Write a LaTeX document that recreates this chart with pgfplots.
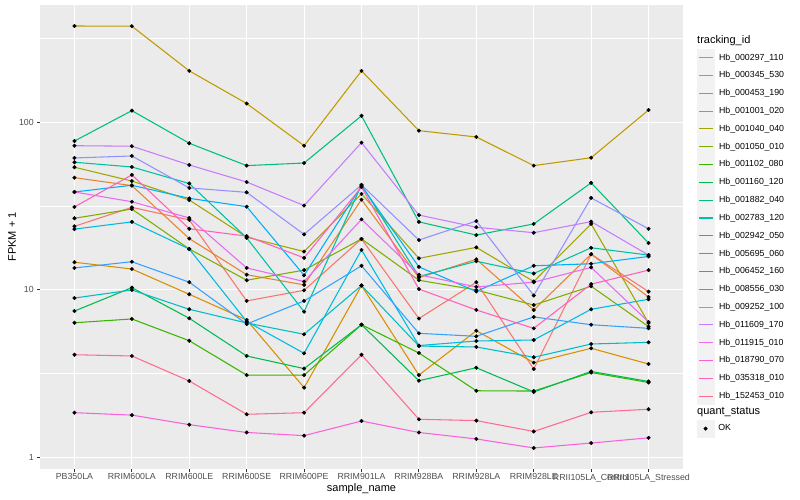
\documentclass[border=0pt]{standalone}
\usepackage{fontspec}
\setmainfont{Liberation Sans}
\usepackage{pgfplots}
\usepackage{pgfplotstable}
\pgfplotsset{compat=1.18}

% ggplot hue palette, 20 levels
\definecolor{c1}{HTML}{F8766D}
\definecolor{c2}{HTML}{EA8331}
\definecolor{c3}{HTML}{D89000}
\definecolor{c4}{HTML}{C09B00}
\definecolor{c5}{HTML}{A3A500}
\definecolor{c6}{HTML}{7CAE00}
\definecolor{c7}{HTML}{39B600}
\definecolor{c8}{HTML}{00BB4E}
\definecolor{c9}{HTML}{00BF7D}
\definecolor{c10}{HTML}{00C1A3}
\definecolor{c11}{HTML}{00BFC4}
\definecolor{c12}{HTML}{00BAE0}
\definecolor{c13}{HTML}{00B0F6}
\definecolor{c14}{HTML}{35A2FF}
\definecolor{c15}{HTML}{9590FF}
\definecolor{c16}{HTML}{C77CFF}
\definecolor{c17}{HTML}{E76BF3}
\definecolor{c18}{HTML}{FA62DB}
\definecolor{c19}{HTML}{FF62BC}
\definecolor{c20}{HTML}{FF6C91}
\definecolor{ggbg}{HTML}{EBEBEB}
\definecolor{keybg}{HTML}{F2F2F2}
\definecolor{gray20}{HTML}{333333}
\definecolor{gray30}{HTML}{4D4D4D}

\newcommand\ticksize{\fontsize{8.8bp}{10bp}\selectfont}
\newcommand\titlesize{\fontsize{11bp}{13bp}\selectfont}

% FPKM + 1 per sample (rows) and tracking_id (columns s1..s20, legend order)
\pgfplotstableread{
x  s1    s2    s3    s4   s5    s6    s7    s8    s9   s10   s11   s12   s13   s14   s15   s16   s17   s18   s19   s20
0  23.9  46.6  14.6  374  53.8  26.7  6.36  7.47  77.1 57.6  8.93  23.0  38.3  13.5  61.1  72.3  38.3  1.85  31.2  4.10
1  31.0  41.8  13.3  373  44.5  30.3  6.70  10.3  117  54.0  9.97  25.4  42.0  14.7  62.8  71.8  33.5  1.79  48.4  4.03
2  26.1  20.2  9.40  202  34.3  17.5  4.97  6.76  74.8 43.0  7.65  17.5  35.1  11.1  40.5  55.5  26.8  1.57  23.1  2.86
3  8.58  12.3  6.61  129  20.6  11.4  3.10  4.03  55.0 20.4  6.34  6.47  31.3  6.25  38.1  43.9  13.5  1.41  20.9  1.81
4  9.93  10.7  2.61  72.3 16.9  13.1  3.10  3.39  57.0 7.40  5.43  4.18  12.2  8.58  21.4  31.8  11.2  1.35  15.5  1.85
5  20.1  34.5  10.6  202  37.3  20.1  6.19  6.19  109  42.2  10.6  17.3  41.6  13.9  42.2  75.4  26.3  1.65  41.0  4.10
6  6.74  11.8  3.10  88.9 15.4  11.4  4.20  2.87  25.4 12.0  4.62  4.65  13.7  5.50  19.8  27.9  12.3  1.41  10.1  1.69
7  11.1  15.2  5.70  81.5 17.9  9.97  2.50  3.43  21.2 14.8  4.56  4.95  9.77  5.28  25.7  23.6  10.4  1.29  7.58  1.66
8  3.37  7.58  3.68  55.0 11.2  8.11  2.49  2.46  24.7 12.5  3.96  5.02  13.9  6.89  9.25  21.9  11.1  1.14  5.89  1.43
9  16.3  16.3  4.48  61.3 24.7  10.5  3.21  3.26  43.4 17.8  4.75  7.65  14.3  6.19  35.3  25.5  13.6  1.22  10.8  1.86
10 9.75  9.06  3.61  118  6.34  6.03  2.80  2.84  19.0 16.1  4.86  8.78  15.8  5.89  23.1  16.1  6.43  1.31  13.1  1.94
}\fpkm

\begin{document}
\begin{tikzpicture}
\useasboundingbox (0bp,0bp) rectangle (800bp,500bp);
\begin{axis}[
  at={(40bp,31bp)}, anchor=south west,
  scale only axis, width=643bp, height=464bp,
  xmin=-0.6, xmax=10.6,
  ymode=log, ymin=0.854, ymax=499,
  xtick={0,...,10},
  xticklabels={PB350LA,RRIM600LA,RRIM600LE,RRIM600SE,RRIM600PE,RRIM901LA,RRIM928BA,RRIM928LA,RRIM928LE,RRII105LA\_Control,RRII105LA\_Stressed},
  ytick={1,10,100}, yticklabels={1,10,100},
  minor ytick={3.1623,31.623,316.23},
  xmajorgrids, ymajorgrids, yminorgrids,
  major grid style={white, line width=1.07bp},
  minor grid style={white, line width=0.53bp},
  axis background/.style={fill=ggbg},
  axis line style={draw=none},
  tick align=outside, tick pos=left,
  major tick length=2.75bp, minor tick length=0pt,
  every tick/.style={gray20, line width=1.07bp},
  tick label style={font=\ticksize, text=gray30},
  xticklabel style={yshift=1.5bp},
  /pgf/number format/assume math mode=true,
  xlabel={sample\_name}, ylabel={FPKM + 1},
  every axis x label/.style={at={(axis description cs:0.5,-0.0425)}, anchor=center, font=\titlesize},
  every axis y label/.style={at={(axis description cs:-0.0436,0.5)}, anchor=center, rotate=90, font=\titlesize},
  legend style={at={(1.02131,0.90517)}, anchor=north west,
    draw=none, fill=none, inner sep=0pt, outer sep=0pt,
    row sep=0pt, column sep=4bp, font=\ticksize,
    nodes={inner sep=0pt, outer sep=0pt, minimum height=17.28bp, anchor=west}},
  legend cell align=left,
  legend image code/.code={%
    \path (0bp,-8.64bp) rectangle (17.28bp,0bp);
    \fill[keybg, overlay] (0.25bp,-8.39bp) rectangle (17.03bp,8.39bp);
    \draw[#1, overlay] (1.73bp,0bp) -- (15.55bp,0bp);
  },
  legend entries={Hb\_000297\_110,Hb\_000345\_530,Hb\_000453\_190,Hb\_001001\_020,Hb\_001040\_040,Hb\_001050\_010,Hb\_001102\_080,Hb\_001160\_120,Hb\_001882\_040,Hb\_002783\_120,Hb\_002942\_050,Hb\_005695\_060,Hb\_006452\_160,Hb\_008556\_030,Hb\_009252\_100,Hb\_011609\_170,Hb\_011915\_010,Hb\_018790\_070,Hb\_035318\_010,Hb\_152453\_010},
]
\pgfplotsinvokeforeach{1,...,20}{
  \addplot[c#1, line width=1.07bp, no marks] table[x=x, y=s#1] {\fpkm};
}
\pgfplotsinvokeforeach{1,...,20}{
  \addplot[black, only marks, mark=*, mark size=1.8bp, forget plot] table[x=x, y=s#1] {\fpkm};
}
\end{axis}
\node[anchor=west, font=\titlesize, inner sep=0pt] at (697bp,459bp) {tracking\_id};
\node[anchor=west, font=\titlesize, inner sep=0pt] at (697bp,87.7bp) {quant\_status};
\begin{axis}[
  at={(40bp,31bp)}, anchor=south west,
  scale only axis, width=643bp, height=464bp,
  hide axis, xmin=0, xmax=1, ymin=0, ymax=1,
  legend style={at={(1.02131,0.1056)}, anchor=north west,
    draw=none, fill=none, inner sep=0pt, outer sep=0pt,
    column sep=4bp, font=\ticksize,
    nodes={inner sep=0pt, outer sep=0pt, minimum height=17.28bp, anchor=west}},
  legend cell align=left,
  legend image code/.code={%
    \path (0bp,-8.64bp) rectangle (17.28bp,0bp);
    \fill[keybg, overlay] (0.25bp,-8.39bp) rectangle (17.03bp,8.39bp);
    \fill[black, overlay] (8.64bp,0bp) circle (1.8bp);
  },
]
\addlegendimage{black}
\addlegendentry{OK}
\end{axis}
\end{tikzpicture}
\end{document}
